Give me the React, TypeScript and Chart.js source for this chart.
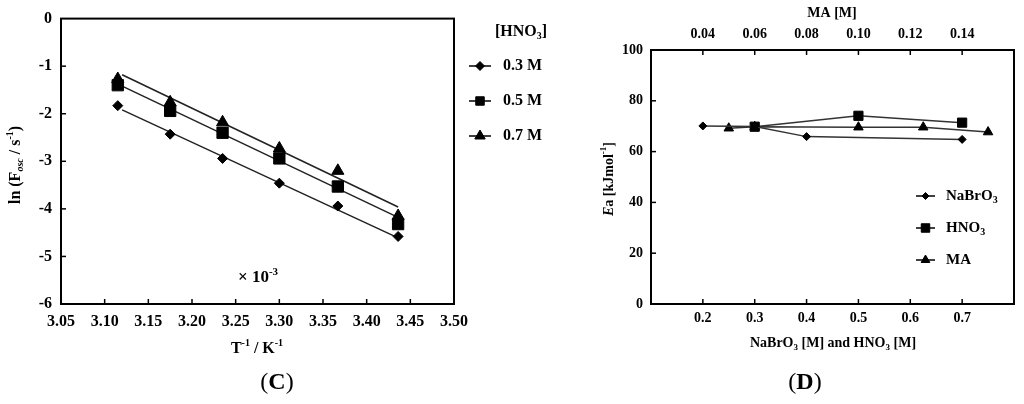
import { useEffect, useRef } from 'react'
import { Chart, registerables } from 'chart.js'
import { drawPoint } from 'chart.js/helpers'

Chart.register(...registerables)

// (C) Arrhenius plot: ln(F_osc) against 1/T (x 10^-3)
const invT = [3.115, 3.175, 3.235, 3.3, 3.367, 3.436]
const lnF03 = [-1.83, -2.43, -2.94, -3.46, -3.94, -4.58]
const lnF05 = [-1.4, -1.94, -2.4, -2.94, -3.53, -4.32]
const lnF07 = [-1.27, -1.76, -2.18, -2.73, -3.2, -4.15]
// fitted lines, end points
const fitX = [3.12, 3.436]
const fit03 = [-1.92, -4.61]
const fit05 = [-1.42, -4.18]
const fit07 = [-1.18, -3.96]
const hno3Labels = ['0.3 M', '0.5 M', '0.7 M']

// (D) activation energy against concentration
const naBrO3Conc = [0.2, 0.3, 0.4, 0.7]
const naBrO3Ea = [70.1, 69.9, 65.9, 64.8]
const hno3Conc = [0.3, 0.5, 0.7]
const hno3Ea = [69.8, 74.1, 71.4]
const maConc = [0.05, 0.06, 0.1, 0.125, 0.15]
const maEa = [69.2, 69.8, 69.6, 69.6, 67.7]

const SERIF = '"Liberation Serif", "Times New Roman", serif'
const styles = ['rectRot', 'rect', 'triangle'] as const

Chart.defaults.color = '#000'

type Seg = { t: string; s?: 'sub' | 'sup'; i?: boolean; n?: boolean }

function segFont(seg: Seg, size: number) {
  const fs = seg.s ? Math.round(size * 0.65) : size
  return `${seg.i ? 'italic ' : ''}${seg.n ? '' : 'bold '}${fs}px ${SERIF}`
}

function drawRich(ctx: CanvasRenderingContext2D, segs: Seg[], x: number, y: number, size: number, align = 'center', angle = 0) {
  ctx.save()
  ctx.translate(x, y)
  ctx.rotate(angle)
  ctx.textBaseline = 'middle'
  ctx.textAlign = 'left'
  ctx.fillStyle = '#000'
  let w = 0
  for (const s of segs) {
    ctx.font = segFont(s, size)
    w += ctx.measureText(s.t).width
  }
  let cx = align === 'center' ? -w / 2 : align === 'right' ? -w : 0
  for (const s of segs) {
    ctx.font = segFont(s, size)
    const dy = s.s === 'sub' ? size * 0.3 : s.s === 'sup' ? -size * 0.35 : 0
    ctx.fillText(s.t, cx, dy)
    cx += ctx.measureText(s.t).width
  }
  ctx.restore()
}

const pts = (xs: number[], ys: number[]) => xs.map((x, i) => ({ x, y: ys[i] }))

// box around the plot area plus short inward ticks
const framePlugin = {
  id: 'frame',
  beforeDatasetsDraw(chart: any) {
    const { ctx, chartArea: a } = chart
    ctx.save()
    ctx.strokeStyle = '#000'
    ctx.lineWidth = 1.5
    for (const id of Object.keys(chart.scales)) {
      const sc = chart.scales[id]
      for (const t of sc.ticks) {
        const v = t.value
        if (v <= sc.min + 1e-9 || v >= sc.max - 1e-9) continue
        const p = sc.getPixelForValue(v)
        ctx.beginPath()
        if (sc.position === 'bottom') { ctx.moveTo(p, a.bottom); ctx.lineTo(p, a.bottom - 5) }
        if (sc.position === 'top') { ctx.moveTo(p, a.top); ctx.lineTo(p, a.top + 5) }
        if (sc.position === 'left') { ctx.moveTo(a.left, p); ctx.lineTo(a.left + 5, p) }
        ctx.stroke()
      }
    }
    ctx.lineWidth = 2
    ctx.strokeRect(a.left, a.top, a.right - a.left, a.bottom - a.top)
    ctx.restore()
  },
}

function legendItem(ctx: CanvasRenderingContext2D, style: string, radius: number, x0: number, x1: number, y: number) {
  ctx.save()
  ctx.strokeStyle = '#000'
  ctx.fillStyle = '#000'
  ctx.lineWidth = 1.5
  ctx.beginPath()
  ctx.moveTo(x0, y)
  ctx.lineTo(x1, y)
  ctx.stroke()
  ctx.lineWidth = 1
  drawPoint(ctx, { pointStyle: style as any, radius, borderWidth: 1, rotation: 0 } as any, (x0 + x1) / 2, y)
  ctx.restore()
}

const tickFont = (size: number) => ({ family: SERIF, size, weight: 'bold' as const })

function ArrheniusChart() {
  const chartRef = useRef<HTMLCanvasElement>(null)

  useEffect(() => {
    if (!chartRef.current) return
    const ctx = chartRef.current.getContext('2d')
    if (!ctx) return

    const series = [lnF03, lnF05, lnF07]
    const radii = [5, 8, 7]
    const fits = [fit03, fit05, fit07]

    const textPlugin = {
      id: 'textsC',
      afterDraw(chart: any) {
        const c = chart.ctx as CanvasRenderingContext2D
        drawRich(c, [{ t: 'ln (F' }, { t: 'osc', s: 'sub', i: true }, { t: ' / s' }, { t: '-1', s: 'sup' }, { t: ')' }], 16, 165, 16, 'center', -Math.PI / 2)
        drawRich(c, [{ t: 'T' }, { t: '-1', s: 'sup' }, { t: ' / K' }, { t: '-1', s: 'sup' }], 257, 349, 16)
        drawRich(c, [{ t: '× 10' }, { t: '-3', s: 'sup' }], 238, 278, 17, 'left')
        drawRich(c, [{ t: '(', n: true }, { t: 'C' }, { t: ')', n: true }], 277, 383, 24)
        drawRich(c, [{ t: '[HNO' }, { t: '3', s: 'sub' }, { t: ']' }], 521, 32, 16)
        const legR = [4.5, 6, 6]
        hno3Labels.forEach((lab, i) => {
          const y = 66 + i * 35
          legendItem(c, styles[i], legR[i], 469, 491, y)
          drawRich(c, [{ t: lab }], 503, y, 16, 'left')
        })
      },
    }

    const chart = new Chart(ctx, {
      type: 'scatter',
      data: {
        datasets: [
          ...series.map((ys, i) => ({
            label: hno3Labels[i],
            data: pts(invT, ys),
            pointStyle: styles[i],
            pointRadius: radii[i],
            pointBackgroundColor: '#000',
            pointBorderColor: '#000',
            pointBorderWidth: 1,
            showLine: false,
          })),
          ...fits.map((ys, i) => ({
            label: 'fit ' + hno3Labels[i],
            data: pts(fitX, ys),
            pointRadius: 0,
            borderColor: '#222',
            borderWidth: 1.5,
            showLine: true,
          })),
        ],
      },
      options: {
        responsive: false,
        animation: false,
        layout: { padding: { left: 0, right: 146, top: 15, bottom: 70 } },
        plugins: { legend: { display: false }, tooltip: { enabled: false } },
        scales: {
          x: {
            type: 'linear',
            min: 3.05,
            max: 3.5,
            grid: { display: false, drawTicks: false },
            border: { display: false },
            afterFit: (s: any) => { s.height = 30 },
            ticks: {
              stepSize: 0.05,
              autoSkip: false,
              maxRotation: 0,
              padding: 8,
              font: tickFont(16),
              callback: (v: any) => Number(v).toFixed(2),
            },
          },
          y: {
            type: 'linear',
            min: -6,
            max: 0,
            grid: { display: false, drawTicks: false },
            border: { display: false },
            afterFit: (s: any) => { s.width = 61 },
            ticks: { stepSize: 1, padding: 9, font: tickFont(16) },
          },
        },
      },
      plugins: [framePlugin, textPlugin],
    })

    return () => {
      chart.destroy()
    }
  }, [])

  return <canvas ref={chartRef} width={600} height={404} style={{ position: 'absolute', left: 0, top: 0, width: 600, height: 404 }} />
}

function ActivationChart() {
  const chartRef = useRef<HTMLCanvasElement>(null)

  useEffect(() => {
    if (!chartRef.current) return
    const ctx = chartRef.current.getContext('2d')
    if (!ctx) return

    const names: Seg[][] = [
      [{ t: 'NaBrO' }, { t: '3', s: 'sub' }],
      [{ t: 'HNO' }, { t: '3', s: 'sub' }],
      [{ t: 'MA' }],
    ]
    const radii = [4, 6.5, 5.5]

    const textPlugin = {
      id: 'textsD',
      afterDraw(chart: any) {
        const c = chart.ctx as CanvasRenderingContext2D
        drawRich(c, [{ t: 'MA [M]' }], 232, 13, 14)
        drawRich(c, [{ t: 'NaBrO' }, { t: '3', s: 'sub' }, { t: ' [M] and HNO' }, { t: '3', s: 'sub' }, { t: ' [M]' }], 233, 343, 14)
        drawRich(c, [{ t: 'E', i: true }, { t: 'a [kJmol' }, { t: '-1', s: 'sup' }, { t: ']' }], 9, 179, 14, 'center', -Math.PI / 2)
        drawRich(c, [{ t: '(', n: true }, { t: 'D' }, { t: ')', n: true }], 205, 383, 24)
        names.forEach((segs, i) => {
          const y = 196 + i * 32
          legendItem(c, styles[i], radii[i] - 0.5, 316, 335, y)
          drawRich(c, segs, 346, y, 15, 'left')
        })
      },
    }

    const lineStyle = (i: number) => ({
      pointStyle: styles[i],
      pointRadius: radii[i],
      pointBackgroundColor: '#000',
      pointBorderColor: '#000',
      pointBorderWidth: 1,
      borderColor: '#333',
      borderWidth: 1.5,
      showLine: true,
    })

    const chart = new Chart(ctx, {
      type: 'scatter',
      data: {
        datasets: [
          { label: 'NaBrO3', data: pts(naBrO3Conc, naBrO3Ea), ...lineStyle(0) },
          { label: 'HNO3', data: pts(hno3Conc, hno3Ea), ...lineStyle(1) },
          { label: 'MA', data: pts(maConc, maEa), xAxisID: 'x2', ...lineStyle(2) },
        ],
      },
      options: {
        responsive: false,
        animation: false,
        layout: { padding: { left: 0, right: 10, top: 0, bottom: 70 } },
        plugins: { legend: { display: false }, tooltip: { enabled: false } },
        scales: {
          x: {
            type: 'linear',
            position: 'bottom',
            min: 0.1,
            max: 0.8,
            grid: { display: false, drawTicks: false },
            border: { display: false },
            afterFit: (s: any) => { s.height = 30 },
            ticks: {
              stepSize: 0.1,
              autoSkip: false,
              maxRotation: 0,
              padding: 6,
              font: tickFont(14),
              callback: (v: any) => (v < 0.15 || v > 0.75 ? '' : Number(v).toFixed(1)),
            },
          },
          x2: {
            type: 'linear',
            position: 'top',
            axis: 'x',
            min: 0.02,
            max: 0.16,
            grid: { display: false, drawTicks: false },
            border: { display: false },
            afterFit: (s: any) => { s.height = 50 },
            ticks: {
              stepSize: 0.02,
              autoSkip: false,
              maxRotation: 0,
              padding: 7,
              font: tickFont(14),
              callback: (v: any) => (v < 0.03 || v > 0.15 ? '' : Number(v).toFixed(2)),
            },
          },
          y: {
            type: 'linear',
            min: 0,
            max: 100,
            grid: { display: false, drawTicks: false },
            border: { display: false },
            afterFit: (s: any) => { s.width = 51 },
            ticks: { stepSize: 20, padding: 8, font: tickFont(14) },
          },
        },
      },
      plugins: [framePlugin, textPlugin],
    })

    return () => {
      chart.destroy()
    }
  }, [])

  return <canvas ref={chartRef} width={424} height={404} style={{ position: 'absolute', left: 600, top: 0, width: 424, height: 404 }} />
}

export default function App() {
  return (
    <div style={{ position: 'absolute', left: 0, top: 0, width: 1024, height: 404, background: '#fff' }}>
      <ArrheniusChart />
      <ActivationChart />
    </div>
  )
}
